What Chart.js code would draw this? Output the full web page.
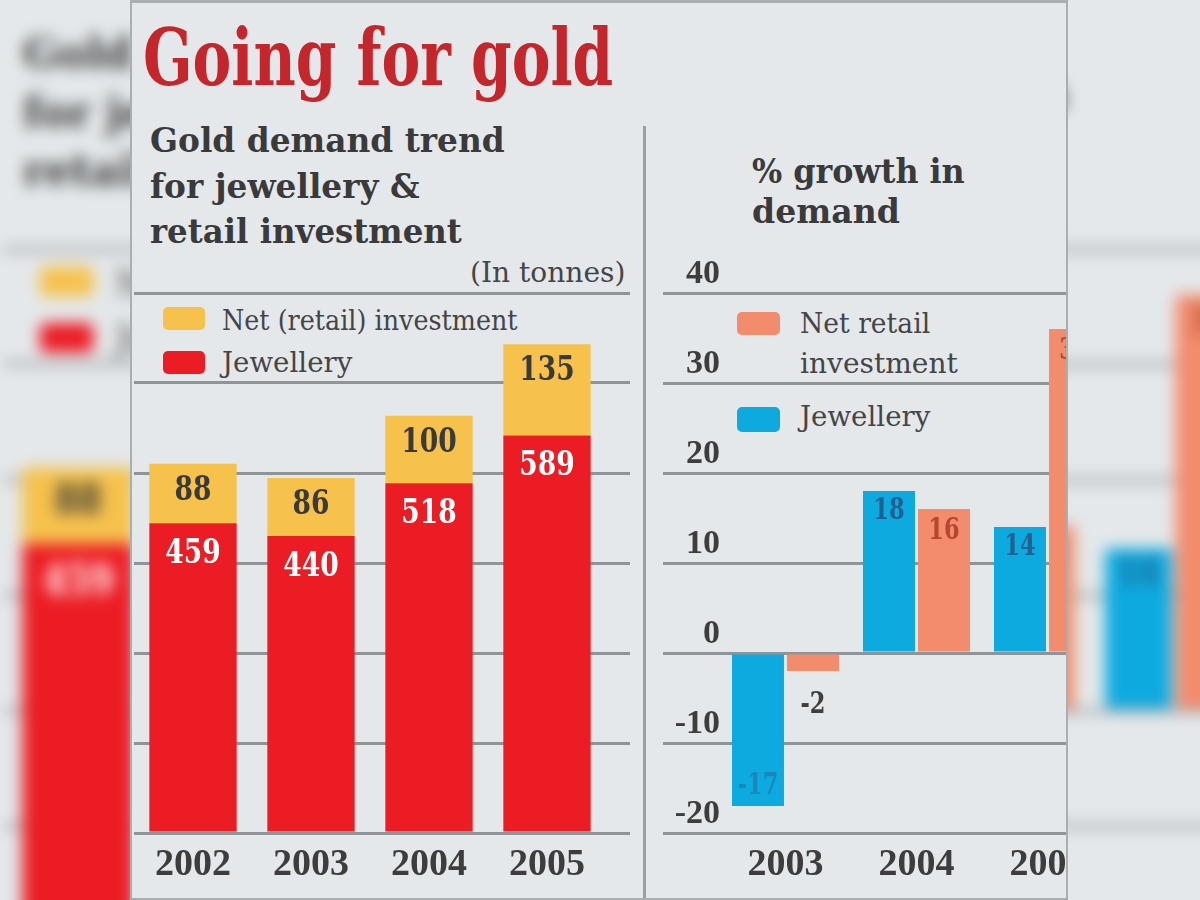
<!DOCTYPE html>
<html><head><meta charset="utf-8">
<script src="https://cdn.jsdelivr.net/npm/chart.js@4/dist/chart.umd.min.js"></script>
<style>
html,body{margin:0;padding:0;width:1200px;height:900px;overflow:hidden;background:#dfe3e5;}
.comp{position:absolute;left:0;top:0;width:1200px;height:900px;background:#e4e8ea;overflow:hidden;}
#bg{transform:scale(1.282);transform-origin:600px 450px;filter:blur(6px);}
#fg{clip-path:inset(0 132px 0 132px);}
.t{position:absolute;white-space:nowrap;line-height:1;transform-origin:0 0;font-family:'DejaVu Serif',serif;}
canvas{position:absolute;}
.sw{position:absolute;border-radius:5px;}
.divider{position:absolute;left:643px;top:126px;width:3px;height:774px;background:#9a9fa2;}
#frame{position:absolute;left:130px;top:0;width:934px;height:895px;border:2px solid #a9aeb1;border-top-width:3px;}
</style></head><body>
<div id="bg" class="comp"></div>
<div id="fg" class="comp"></div>
<div id="frame"></div>
<script>
// ---- data ----
const titleText = 'Going for gold';
const leftTitleLines = ['Gold demand trend', 'for jewellery &', 'retail investment'];
const unitText = '(In tonnes)';
const rightTitleLines = ['% growth in', 'demand'];
const years = ['2002', '2003', '2004', '2005'];
const jewellery = [459, 440, 518, 589];
const netRetail = [88, 86, 100, 135];
const growthYears = ['2003', '2004', '2005'];
const jewelleryGrowth = [-17, 18, 14];
const netRetailGrowth = [-2, 16, 36];
const growthTicks = [-20, -10, 0, 10, 20, 30, 40];
const leftLegend = ['Net (retail) investment', 'Jewellery'];
const rightLegend = [['Net retail', 'investment'], ['Jewellery']];

const RED = '#ec1c24', YELLOW = '#f6c24c', BLUE = '#0daae0', ORANGE = '#f28c6c', GRID = '#8e9497';
Chart.defaults.font.family = "'Liberation Serif', serif";

function txt(parent, s, x, base, size, w, color, weight) {
  const e = document.createElement('div');
  e.className = 't'; e.textContent = s;
  e.style.left = x + 'px'; e.style.top = (base - 0.846 * size) + 'px';
  e.style.fontSize = size + 'px'; e.style.color = color; e.style.fontWeight = weight || 'bold';
  e.dataset.w = w; parent.appendChild(e); return e;
}
function sw(parent, x, y, w, h, color) {
  const e = document.createElement('div'); e.className = 'sw';
  Object.assign(e.style, {left: x + 'px', top: y + 'px', width: w + 'px', height: h + 'px', background: color});
  parent.appendChild(e);
}

const valuePlugin = {
  id: 'vals',
  afterDatasetsDraw(chart) {
    const ctx = chart.ctx;
    chart.data.datasets.forEach((ds, i) => {
      const meta = chart.getDatasetMeta(i);
      const o = ds.valOpt;
      meta.data.forEach((bar, j) => {
        const v = ds.data[j];
        let y, color = o.color;
        if (v >= 0) y = bar.y + o.inside;
        else if (o.below) { y = bar.y + o.below; color = o.outColor; }
        else { y = bar.y - o.inside; color = o.negColor || o.color; }
        ctx.save();
        ctx.translate(bar.x, y); ctx.scale(o.sx, 1);
        ctx.font = o.font; ctx.fillStyle = color;
        ctx.textAlign = 'center'; ctx.textBaseline = 'middle';
        ctx.fillText(String(v), 0, 0);
        ctx.restore();
      });
    });
  }
};

function leftChart(parent) {
  const c = document.createElement('canvas');
  c.width = 540; c.height = 700; c.style.left = '100px'; c.style.top = '200px';
  parent.appendChild(c);
  new Chart(c, {
    type: 'bar',
    data: {labels: years, datasets: [
      {label: leftLegend[1], data: jewellery, backgroundColor: RED, barPercentage: 0.74, categoryPercentage: 1,
       valOpt: {inside: 31, color: '#ffffff', font: "bold 34px 'DejaVu Serif'", sx: 0.78}},
      {label: leftLegend[0], data: netRetail, backgroundColor: YELLOW, barPercentage: 0.74, categoryPercentage: 1,
       valOpt: {inside: 27, color: '#3a3a3a', font: "bold 34px 'DejaVu Serif'", sx: 0.78}}
    ]},
    options: {
      responsive: false, animation: false, devicePixelRatio: 1,
      layout: {padding: {left: 34, right: 10, top: 93, bottom: 0}},
      plugins: {legend: {display: false}, tooltip: {enabled: false}},
      scales: {
        x: {stacked: true, grid: {display: false}, border: {display: false},
            ticks: {padding: 1, color: '#3d3d3d', font: {size: 38, weight: 'bold'}},
            afterFit: s => { s.height = 67; }},
        y: {stacked: true, position: 'right', min: 0, max: 800,
            ticks: {display: false, count: 7},
            grid: {color: GRID, lineWidth: 3, tickLength: 24},
            border: {display: false},
            afterFit: s => { s.width = 24; }}
      }
    },
    plugins: [valuePlugin]
  });
}

function rightChart(parent) {
  const c = document.createElement('canvas');
  c.width = 560; c.height = 700; c.style.left = '640px'; c.style.top = '200px';
  parent.appendChild(c);
  new Chart(c, {
    type: 'bar',
    data: {labels: growthYears, datasets: [
      {label: rightLegend[1][0], data: jewelleryGrowth, backgroundColor: BLUE, barPercentage: 0.945, categoryPercentage: 0.84,
       valOpt: {inside: 20, color: '#24608e', negColor: '#1b86b8', font: "bold 30px 'DejaVu Serif'", sx: 0.75}},
      {label: rightLegend[0].join(' '), data: netRetailGrowth, backgroundColor: ORANGE, barPercentage: 0.945, categoryPercentage: 0.84,
       valOpt: {inside: 22, color: '#b5472f', below: 34, outColor: '#3f3f3f', font: "bold 30px 'DejaVu Serif'", sx: 0.75}}
    ]},
    options: {
      responsive: false, animation: false, devicePixelRatio: 1,
      layout: {padding: {left: 23, right: 87, top: 93, bottom: 0}},
      plugins: {legend: {display: false}, tooltip: {enabled: false}},
      scales: {
        x: {grid: {display: false}, border: {display: false},
            ticks: {padding: 1, color: '#3d3d3d', font: {size: 38, weight: 'bold'}},
            afterFit: s => { s.height = 67; }},
        y: {min: growthTicks[0], max: growthTicks[growthTicks.length - 1],
            afterBuildTicks: s => { s.ticks = growthTicks.map(v => ({value: v})); },
            ticks: {padding: -57, labelOffset: -19, color: '#3d3d3d', font: {size: 34, weight: 'bold'},
                    callback: v => String(v)},
            grid: {color: GRID, lineWidth: 3, tickLength: 57},
            border: {display: false},
            afterFit: s => { s.width = 57; }}
      }
    },
    plugins: [valuePlugin]
  });
}

function build(root) {
  txt(root, titleText, 143, 85, 78, 470, '#c5262b');
  const lb = [152, 198, 243], lw = [355, 270, 312];
  leftTitleLines.forEach((s, i) => txt(root, s, 150, lb[i], 34, lw[i], '#3a3a3a'));
  txt(root, unitText, 470, 282, 27, 155, '#454545', 'normal');
  const rb = [183, 223], rw = [213, 148];
  rightTitleLines.forEach((s, i) => txt(root, s, 752, rb[i], 34, rw[i], '#3a3a3a'));
  // left legend
  sw(root, 163, 307, 42, 23, YELLOW); sw(root, 163, 351, 42, 23, RED);
  txt(root, leftLegend[0], 222, 330, 27, 296, '#454545', 'normal');
  txt(root, leftLegend[1], 222, 372, 27, 130, '#454545', 'normal');
  // right legend
  sw(root, 737, 312, 43, 23, ORANGE); sw(root, 737, 407, 43, 25, BLUE);
  txt(root, rightLegend[0][0], 800, 333, 27, 130, '#454545', 'normal');
  txt(root, rightLegend[0][1], 800, 373, 27, 158, '#454545', 'normal');
  txt(root, rightLegend[1][0], 800, 426, 27, 130, '#454545', 'normal');
  const d = document.createElement('div'); d.className = 'divider'; root.appendChild(d);
  leftChart(root);
  rightChart(root);
}

build(document.getElementById('bg'));
build(document.getElementById('fg'));
document.querySelectorAll('.t').forEach(e => {
  const nw = e.offsetWidth;
  e.style.transform = 'scaleX(' + (e.dataset.w / nw) + ')';
});
</script>
</body></html>
